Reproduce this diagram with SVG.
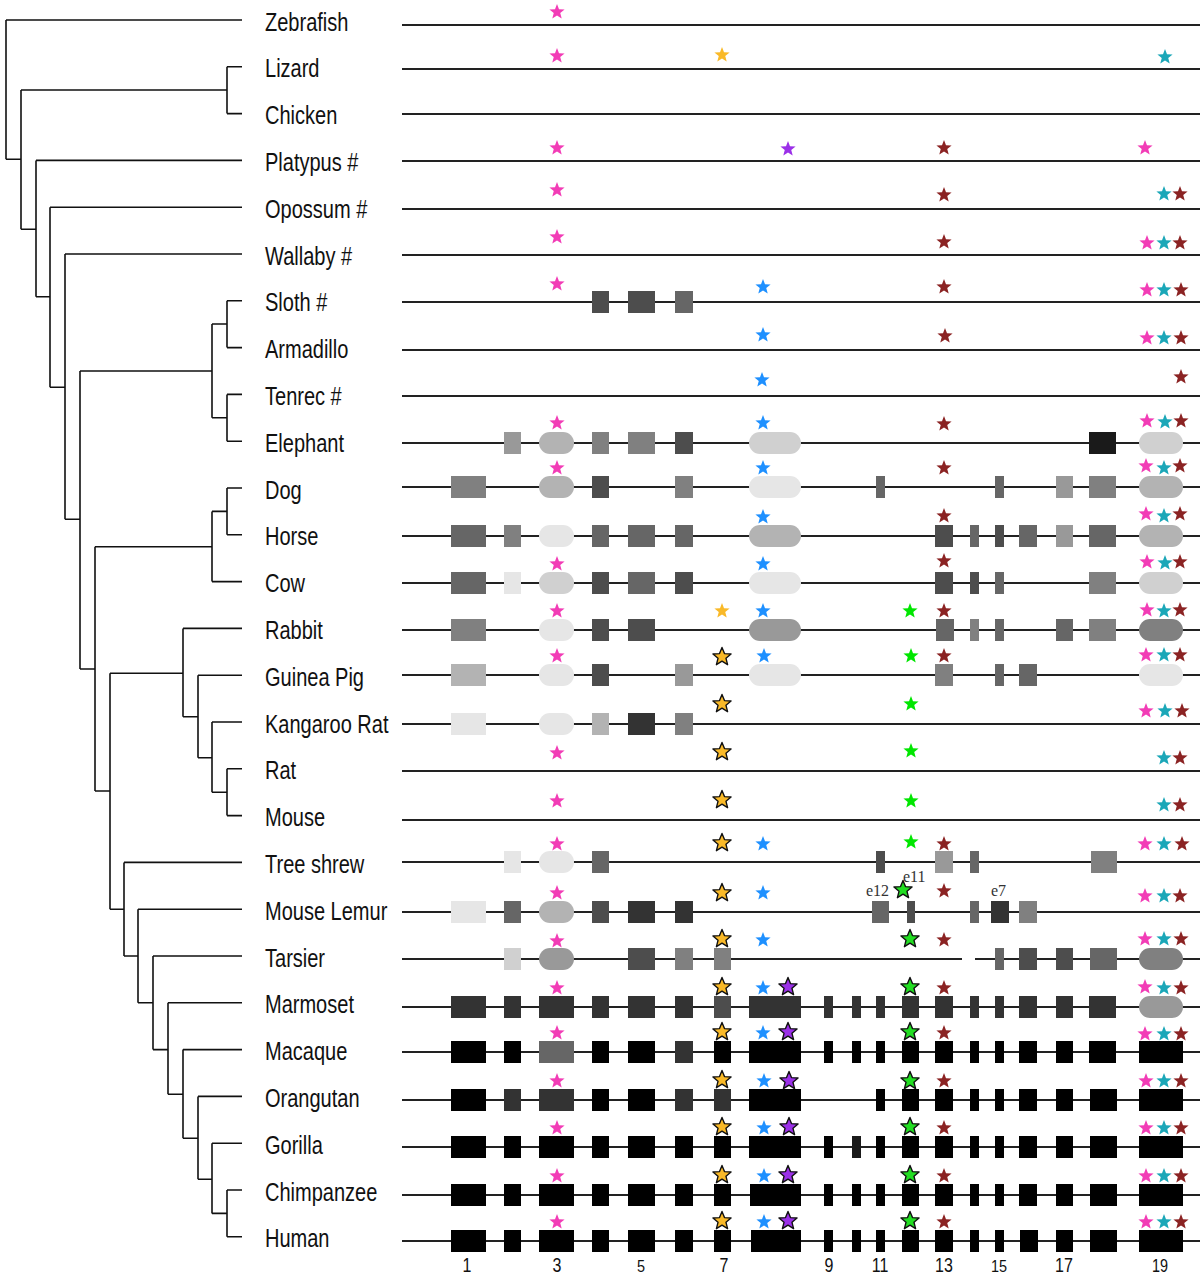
<svg xmlns="http://www.w3.org/2000/svg" xmlns:xlink="http://www.w3.org/1999/xlink" width="1200" height="1276" viewBox="0 0 1200 1276">
<style>
.lbl{font-family:"Liberation Sans",Arial,sans-serif;font-size:26px;fill:#111}
.num{font-family:"Liberation Sans",Arial,sans-serif;fill:#111;text-anchor:middle}
.ex{font-family:"Liberation Serif","Times New Roman",serif;font-size:16px;fill:#333}
.ln{stroke:#222;stroke-width:2;fill:none}
.tr path{stroke:#111;stroke-width:1.6;fill:none}
.g1{fill:#e6e6e6}.g2{fill:#d0d0d0}.g3{fill:#b3b3b3}.g4{fill:#999}.g5{fill:#808080}.g6{fill:#666}.g7{fill:#4d4d4d}.g8{fill:#333}.g9{fill:#1a1a1a}.k{fill:#000}
.p{fill:#f23cb6}.y{fill:#f9b928}.b{fill:#1e90ff}.v{fill:#9b30e8}.r{fill:#8b2323}.t{fill:#1ba7b8}.gr{fill:#00e600}.go{fill:#22dd22}
.o{stroke:#111;stroke-width:1.4;stroke-linejoin:round}
</style>
<defs>
<path id="s" d="M0,-8 L2.0,-2.76 L7.61,-2.47 L3.24,1.05 L4.7,6.47 L0,3.41 L-4.7,6.47 L-3.24,1.05 L-7.61,-2.47 L-2.0,-2.76 Z"/>
<path id="so" d="M0,-9.5 L2.47,-3.4 L9.04,-2.94 L3.99,1.3 L5.58,7.69 L0,4.2 L-5.58,7.69 L-3.99,1.3 L-9.04,-2.94 L-2.47,-3.4 Z"/>
</defs>
<rect width="1200" height="1276" fill="#fff"/>

<g id="connectors" class="tr">
<path d="M6,20 V159.3 M6,20 H242 M6,159.3 H21"/>
<path d="M21,90 V229.3 M21,90 H227 M21,229.3 H36 M227,66.8 V113.6 M227,66.8 H242 M227,113.6 H242"/>
<path d="M36,160.4 V296.7 M36,160.4 H242 M36,296.7 H50"/>
<path d="M50,207.2 V387.3 M50,207.2 H242 M50,387.3 H65"/>
<path d="M65,254 V519.3 M65,254 H242 M65,519.3 H80"/>
<path d="M80,371 V669 M80,371 H212 M80,669 H95"/>
<path d="M212,324 V417.8 M212,324 H227 M212,417.8 H227 M227,300.8 V347.6 M227,300.8 H242 M227,347.6 H242 M227,394.4 V441.2 M227,394.4 H242 M227,441.2 H242"/>
<path d="M95,546.7 V791 M95,546.7 H212 M95,791 H110"/>
<path d="M212,511.4 V581.6 M212,511.4 H227 M212,581.6 H242 M227,488 V534.8 M227,488 H242 M227,534.8 H242"/>
<path d="M110,673.3 V909.2 M110,673.3 H183 M110,909.2 H124"/>
<path d="M183,628.4 V716.7 M183,628.4 H242 M183,716.7 H198 M198,675.2 V757.7 M198,675.2 H242 M198,757.7 H212 M212,722 V792.2 M212,722 H242 M212,792.2 H227 M227,768.8 V815.6 M227,768.8 H242 M227,815.6 H242"/>
<path d="M124,862.4 V956 M124,862.4 H242 M124,956 H138 M138,909.2 V1002.8 M138,909.2 H242 M138,1002.8 H153 M153,956 V1049.6 M153,956 H242 M153,1049.6 H168 M168,1002.8 V1094.3 M168,1002.8 H242 M168,1094.3 H183 M183,1049.6 V1138.3 M183,1049.6 H242 M183,1138.3 H198 M198,1096.4 V1179.3 M198,1096.4 H242 M198,1179.3 H212 M212,1143.2 V1213.4 M212,1143.2 H242 M212,1213.4 H227 M227,1190 V1236.8 M227,1190 H242 M227,1236.8 H242"/>
</g>

<g id="zebrafish">
<text class="lbl" transform="translate(265,30.5) scale(0.77,1)">Zebrafish</text>
<line class="ln" x1="402" y1="25" x2="1200" y2="25"/>
<use href="#s" x="557" y="12" class="p"/>
</g>
<g id="lizard">
<text class="lbl" transform="translate(265,77.3) scale(0.77,1)">Lizard</text>
<line class="ln" x1="402" y1="69" x2="1200" y2="69"/>
<use href="#s" x="557" y="56" class="p"/><use href="#s" x="722" y="55" class="y"/><use href="#s" x="1165" y="57" class="t"/>
</g>
<g id="chicken">
<text class="lbl" transform="translate(265,124.1) scale(0.77,1)">Chicken</text>
<line class="ln" x1="402" y1="114" x2="1200" y2="114"/>
</g>
<g id="platypus">
<text class="lbl" transform="translate(265,170.9) scale(0.77,1)">Platypus #</text>
<line class="ln" x1="402" y1="161" x2="1200" y2="161"/>
<use href="#s" x="557" y="148" class="p"/><use href="#s" x="788" y="149" class="v"/><use href="#s" x="944" y="148" class="r"/><use href="#s" x="1145" y="148" class="p"/>
</g>
<g id="opossum">
<text class="lbl" transform="translate(265,217.7) scale(0.77,1)">Opossum #</text>
<line class="ln" x1="402" y1="209" x2="1200" y2="209"/>
<use href="#s" x="557" y="190" class="p"/><use href="#s" x="944" y="195" class="r"/><use href="#s" x="1164" y="194" class="t"/><use href="#s" x="1180" y="194" class="r"/>
</g>
<g id="wallaby">
<text class="lbl" transform="translate(265,264.5) scale(0.77,1)">Wallaby #</text>
<line class="ln" x1="402" y1="255" x2="1200" y2="255"/>
<use href="#s" x="557" y="237" class="p"/><use href="#s" x="944" y="242" class="r"/><use href="#s" x="1147" y="243" class="p"/><use href="#s" x="1164" y="243" class="t"/><use href="#s" x="1180" y="243" class="r"/>
</g>
<g id="sloth">
<text class="lbl" transform="translate(265,311.3) scale(0.77,1)">Sloth #</text>
<line class="ln" x1="402" y1="302" x2="1200" y2="302"/>
<rect class="g7" x="592" y="291" width="17" height="22"/><rect class="g7" x="628" y="291" width="27" height="22"/><rect class="g6" x="675" y="291" width="18" height="22"/>
<use href="#s" x="557" y="284" class="p"/><use href="#s" x="763" y="287" class="b"/><use href="#s" x="944" y="287" class="r"/><use href="#s" x="1147" y="290" class="p"/><use href="#s" x="1164" y="290" class="t"/><use href="#s" x="1181" y="290" class="r"/>
</g>
<g id="armadillo">
<text class="lbl" transform="translate(265,358.1) scale(0.77,1)">Armadillo</text>
<line class="ln" x1="402" y1="350" x2="1200" y2="350"/>
<use href="#s" x="763" y="335" class="b"/><use href="#s" x="945" y="336" class="r"/><use href="#s" x="1147" y="338" class="p"/><use href="#s" x="1164" y="338" class="t"/><use href="#s" x="1181" y="338" class="r"/>
</g>
<g id="tenrec">
<text class="lbl" transform="translate(265,404.9) scale(0.77,1)">Tenrec #</text>
<line class="ln" x1="402" y1="396" x2="1200" y2="396"/>
<use href="#s" x="762" y="380" class="b"/><use href="#s" x="1181" y="377" class="r"/>
</g>
<g id="elephant">
<text class="lbl" transform="translate(265,451.7) scale(0.77,1)">Elephant</text>
<line class="ln" x1="402" y1="443" x2="1200" y2="443"/>
<rect class="g4" x="504" y="432" width="17" height="22"/><rect class="g3" x="539" y="432" width="35" height="22" rx="11"/><rect class="g5" x="592" y="432" width="17" height="22"/><rect class="g5" x="628" y="432" width="27" height="22"/><rect class="g7" x="675" y="432" width="18" height="22"/><rect class="g2" x="749" y="432" width="52" height="22" rx="11"/><rect class="g9" x="1089" y="432" width="27" height="22"/><rect class="g2" x="1139" y="432" width="44" height="22" rx="11"/>
<use href="#s" x="557" y="423" class="p"/><use href="#s" x="763" y="423" class="b"/><use href="#s" x="944" y="424" class="r"/><use href="#s" x="1147" y="421" class="p"/><use href="#s" x="1165" y="422" class="t"/><use href="#s" x="1181" y="421" class="r"/>
</g>
<g id="dog">
<text class="lbl" transform="translate(265,498.5) scale(0.77,1)">Dog</text>
<line class="ln" x1="402" y1="487" x2="1200" y2="487"/>
<rect class="g5" x="451" y="476" width="35" height="22"/><rect class="g3" x="539" y="476" width="35" height="22" rx="11"/><rect class="g7" x="592" y="476" width="17" height="22"/><rect class="g5" x="675" y="476" width="18" height="22"/><rect class="g1" x="749" y="476" width="52" height="22" rx="11"/><rect class="g6" x="876" y="476" width="9" height="22"/><rect class="g6" x="995" y="476" width="9" height="22"/><rect class="g4" x="1056" y="476" width="17" height="22"/><rect class="g5" x="1089" y="476" width="27" height="22"/><rect class="g3" x="1139" y="476" width="44" height="22" rx="11"/>
<use href="#s" x="557" y="468" class="p"/><use href="#s" x="763" y="468" class="b"/><use href="#s" x="944" y="468" class="r"/><use href="#s" x="1146" y="466" class="p"/><use href="#s" x="1164" y="468" class="t"/><use href="#s" x="1180" y="466" class="r"/>
</g>
<g id="horse">
<text class="lbl" transform="translate(265,545.3) scale(0.77,1)">Horse</text>
<line class="ln" x1="402" y1="536" x2="1200" y2="536"/>
<rect class="g6" x="451" y="525" width="35" height="22"/><rect class="g5" x="504" y="525" width="17" height="22"/><rect class="g1" x="539" y="525" width="35" height="22" rx="11"/><rect class="g6" x="592" y="525" width="17" height="22"/><rect class="g6" x="628" y="525" width="27" height="22"/><rect class="g6" x="675" y="525" width="18" height="22"/><rect class="g3" x="749" y="525" width="52" height="22" rx="11"/><rect class="g7" x="935" y="525" width="18" height="22"/><rect class="g6" x="970" y="525" width="9" height="22"/><rect class="g7" x="995" y="525" width="9" height="22"/><rect class="g6" x="1019" y="525" width="18" height="22"/><rect class="g4" x="1056" y="525" width="17" height="22"/><rect class="g6" x="1089" y="525" width="27" height="22"/><rect class="g3" x="1139" y="525" width="44" height="22" rx="11"/>
<use href="#s" x="763" y="517" class="b"/><use href="#s" x="944" y="516" class="r"/><use href="#s" x="1146" y="514" class="p"/><use href="#s" x="1164" y="516" class="t"/><use href="#s" x="1180" y="514" class="r"/>
</g>
<g id="cow">
<text class="lbl" transform="translate(265,592.1) scale(0.77,1)">Cow</text>
<line class="ln" x1="402" y1="583" x2="1200" y2="583"/>
<rect class="g6" x="451" y="572" width="35" height="22"/><rect class="g1" x="504" y="572" width="17" height="22"/><rect class="g2" x="539" y="572" width="35" height="22" rx="11"/><rect class="g7" x="592" y="572" width="17" height="22"/><rect class="g6" x="628" y="572" width="27" height="22"/><rect class="g7" x="675" y="572" width="18" height="22"/><rect class="g1" x="749" y="572" width="52" height="22" rx="11"/><rect class="g7" x="935" y="572" width="18" height="22"/><rect class="g7" x="970" y="572" width="9" height="22"/><rect class="g6" x="995" y="572" width="9" height="22"/><rect class="g5" x="1089" y="572" width="27" height="22"/><rect class="g2" x="1139" y="572" width="44" height="22" rx="11"/>
<use href="#s" x="557" y="564" class="p"/><use href="#s" x="763" y="564" class="b"/><use href="#s" x="944" y="561" class="r"/><use href="#s" x="1147" y="562" class="p"/><use href="#s" x="1165" y="563" class="t"/><use href="#s" x="1180" y="562" class="r"/>
</g>
<g id="rabbit">
<text class="lbl" transform="translate(265,638.9) scale(0.77,1)">Rabbit</text>
<line class="ln" x1="402" y1="630" x2="1200" y2="630"/>
<rect class="g5" x="451" y="619" width="35" height="22"/><rect class="g1" x="539" y="619" width="35" height="22" rx="11"/><rect class="g7" x="592" y="619" width="17" height="22"/><rect class="g7" x="628" y="619" width="27" height="22"/><rect class="g4" x="749" y="619" width="52" height="22" rx="11"/><rect class="g6" x="936" y="619" width="18" height="22"/><rect class="g5" x="970" y="619" width="9" height="22"/><rect class="g6" x="995" y="619" width="9" height="22"/><rect class="g6" x="1056" y="619" width="17" height="22"/><rect class="g5" x="1089" y="619" width="27" height="22"/><rect class="g5" x="1139" y="619" width="44" height="22" rx="11"/>
<use href="#s" x="557" y="611" class="p"/><use href="#s" x="722" y="611" class="y"/><use href="#s" x="763" y="611" class="b"/><use href="#s" x="910" y="611" class="gr"/><use href="#s" x="944" y="611" class="r"/><use href="#s" x="1147" y="610" class="p"/><use href="#s" x="1164" y="611" class="t"/><use href="#s" x="1180" y="610" class="r"/>
</g>
<g id="guinea-pig">
<text class="lbl" transform="translate(265,685.7) scale(0.77,1)">Guinea Pig</text>
<line class="ln" x1="402" y1="675" x2="1200" y2="675"/>
<rect class="g3" x="451" y="664" width="35" height="22"/><rect class="g1" x="539" y="664" width="35" height="22" rx="11"/><rect class="g7" x="592" y="664" width="17" height="22"/><rect class="g4" x="675" y="664" width="18" height="22"/><rect class="g1" x="749" y="664" width="52" height="22" rx="11"/><rect class="g5" x="935" y="664" width="18" height="22"/><rect class="g6" x="995" y="664" width="9" height="22"/><rect class="g6" x="1019" y="664" width="18" height="22"/><rect class="g1" x="1139" y="664" width="44" height="22" rx="11"/>
<use href="#s" x="557" y="656" class="p"/><use href="#so" x="722" y="657" class="y o"/><use href="#s" x="764" y="656" class="b"/><use href="#s" x="911" y="656" class="gr"/><use href="#s" x="944" y="656" class="r"/><use href="#s" x="1146" y="655" class="p"/><use href="#s" x="1164" y="655" class="t"/><use href="#s" x="1180" y="655" class="r"/>
</g>
<g id="kangaroo-rat">
<text class="lbl" transform="translate(265,732.5) scale(0.77,1)">Kangaroo Rat</text>
<line class="ln" x1="402" y1="724" x2="1200" y2="724"/>
<rect class="g1" x="451" y="713" width="35" height="22"/><rect class="g1" x="539" y="713" width="35" height="22" rx="11"/><rect class="g3" x="592" y="713" width="17" height="22"/><rect class="g8" x="628" y="713" width="27" height="22"/><rect class="g5" x="675" y="713" width="18" height="22"/>
<use href="#so" x="722" y="704" class="y o"/><use href="#s" x="911" y="704" class="gr"/><use href="#s" x="1146" y="711" class="p"/><use href="#s" x="1165" y="711" class="t"/><use href="#s" x="1182" y="711" class="r"/>
</g>
<g id="rat">
<text class="lbl" transform="translate(265,779.3) scale(0.77,1)">Rat</text>
<line class="ln" x1="402" y1="771" x2="1200" y2="771"/>
<use href="#s" x="557" y="753" class="p"/><use href="#so" x="722" y="752" class="y o"/><use href="#s" x="911" y="751" class="gr"/><use href="#s" x="1164" y="758" class="t"/><use href="#s" x="1180" y="758" class="r"/>
</g>
<g id="mouse">
<text class="lbl" transform="translate(265,826.1) scale(0.77,1)">Mouse</text>
<line class="ln" x1="402" y1="820" x2="1200" y2="820"/>
<use href="#s" x="557" y="801" class="p"/><use href="#so" x="722" y="800" class="y o"/><use href="#s" x="911" y="801" class="gr"/><use href="#s" x="1164" y="805" class="t"/><use href="#s" x="1180" y="805" class="r"/>
</g>
<g id="tree-shrew">
<text class="lbl" transform="translate(265,872.9) scale(0.77,1)">Tree shrew</text>
<line class="ln" x1="402" y1="862" x2="1200" y2="862"/>
<rect class="g1" x="504" y="851" width="17" height="22"/><rect class="g1" x="539" y="851" width="35" height="22" rx="11"/><rect class="g6" x="592" y="851" width="17" height="22"/><rect class="g7" x="876" y="851" width="9" height="22"/><rect class="g4" x="935" y="851" width="18" height="22"/><rect class="g6" x="970" y="851" width="9" height="22"/><rect class="g5" x="1091" y="851" width="26" height="22"/>
<use href="#s" x="557" y="844" class="p"/><use href="#so" x="722" y="843" class="y o"/><use href="#s" x="763" y="844" class="b"/><use href="#s" x="911" y="842" class="gr"/><use href="#s" x="944" y="844" class="r"/><use href="#s" x="1145" y="844" class="p"/><use href="#s" x="1164" y="844" class="t"/><use href="#s" x="1182" y="844" class="r"/>
</g>
<g id="mouse-lemur">
<text class="lbl" transform="translate(265,919.7) scale(0.77,1)">Mouse Lemur</text>
<line class="ln" x1="402" y1="912" x2="1200" y2="912"/>
<rect class="g1" x="451" y="901" width="35" height="22"/><rect class="g6" x="504" y="901" width="17" height="22"/><rect class="g3" x="539" y="901" width="35" height="22" rx="11"/><rect class="g7" x="592" y="901" width="17" height="22"/><rect class="g8" x="628" y="901" width="27" height="22"/><rect class="g8" x="675" y="901" width="18" height="22"/><rect class="g6" x="872" y="901" width="17" height="22"/><rect class="g7" x="907" y="901" width="8" height="22"/><rect class="g6" x="970" y="901" width="9" height="22"/><rect class="g8" x="991" y="901" width="18" height="22"/><rect class="g5" x="1019" y="901" width="18" height="22"/>
<text class="ex" x="866" y="896">e12</text><text class="ex" x="903" y="882">e11</text><text class="ex" x="991" y="896">e7</text>
<use href="#s" x="557" y="893" class="p"/><use href="#so" x="722" y="893" class="y o"/><use href="#s" x="763" y="893" class="b"/><use href="#so" x="903" y="890" class="go o"/><use href="#s" x="944" y="891" class="r"/><use href="#s" x="1145" y="896" class="p"/><use href="#s" x="1164" y="896" class="t"/><use href="#s" x="1180" y="896" class="r"/>
</g>
<g id="tarsier">
<text class="lbl" transform="translate(265,966.5) scale(0.77,1)">Tarsier</text>
<line class="ln" x1="402" y1="959" x2="962" y2="959"/><line class="ln" x1="975" y1="959" x2="1200" y2="959"/>
<rect class="g2" x="504" y="948" width="17" height="22"/><rect class="g4" x="539" y="948" width="35" height="22" rx="11"/><rect class="g7" x="628" y="948" width="27" height="22"/><rect class="g5" x="675" y="948" width="18" height="22"/><rect class="g5" x="714" y="948" width="17" height="22"/><rect class="g6" x="995" y="948" width="9" height="22"/><rect class="g7" x="1019" y="948" width="18" height="22"/><rect class="g7" x="1056" y="948" width="17" height="22"/><rect class="g6" x="1090" y="948" width="27" height="22"/><rect class="g5" x="1139" y="948" width="44" height="22" rx="11"/>
<use href="#s" x="557" y="941" class="p"/><use href="#so" x="722" y="939" class="y o"/><use href="#s" x="763" y="940" class="b"/><use href="#so" x="910" y="939" class="go o"/><use href="#s" x="944" y="940" class="r"/><use href="#s" x="1145" y="939" class="p"/><use href="#s" x="1164" y="939" class="t"/><use href="#s" x="1181" y="939" class="r"/>
</g>
<g id="marmoset">
<text class="lbl" transform="translate(265,1013.3) scale(0.77,1)">Marmoset</text>
<line class="ln" x1="402" y1="1007" x2="1200" y2="1007"/>
<g class="g8"><rect x="451" y="996" width="35" height="22"/><rect x="504" y="996" width="17" height="22"/><rect x="539" y="996" width="35" height="22"/><rect x="592" y="996" width="17" height="22"/><rect x="628" y="996" width="27" height="22"/><rect x="675" y="996" width="18" height="22"/><rect x="749" y="996" width="52" height="22"/><rect x="824" y="996" width="9" height="22"/><rect x="852" y="996" width="9" height="22"/><rect x="876" y="996" width="9" height="22"/><rect x="902" y="996" width="17" height="22"/><rect x="935" y="996" width="18" height="22"/><rect x="970" y="996" width="9" height="22"/><rect x="995" y="996" width="9" height="22"/><rect x="1019" y="996" width="18" height="22"/><rect x="1056" y="996" width="17" height="22"/><rect x="1089" y="996" width="27" height="22"/></g>
<rect class="g7" x="714" y="996" width="17" height="22"/><rect class="g4" x="1139" y="996" width="44" height="22" rx="11"/>
<use href="#s" x="557" y="988" class="p"/><use href="#so" x="722" y="987" class="y o"/><use href="#s" x="763" y="988" class="b"/><use href="#so" x="788" y="987" class="v o"/><use href="#so" x="910" y="987" class="go o"/><use href="#s" x="944" y="988" class="r"/><use href="#s" x="1145" y="987" class="p"/><use href="#s" x="1164" y="988" class="t"/><use href="#s" x="1181" y="988" class="r"/>
</g>
<g id="macaque">
<text class="lbl" transform="translate(265,1060.1) scale(0.77,1)">Macaque</text>
<line class="ln" x1="402" y1="1052" x2="1200" y2="1052"/>
<g class="k"><rect x="451" y="1041" width="35" height="22"/><rect x="504" y="1041" width="17" height="22"/><rect x="592" y="1041" width="17" height="22"/><rect x="628" y="1041" width="27" height="22"/><rect x="714" y="1041" width="17" height="22"/><rect x="749" y="1041" width="52" height="22"/><rect x="824" y="1041" width="9" height="22"/><rect x="852" y="1041" width="9" height="22"/><rect x="876" y="1041" width="9" height="22"/><rect x="902" y="1041" width="17" height="22"/><rect x="935" y="1041" width="18" height="22"/><rect x="970" y="1041" width="9" height="22"/><rect x="995" y="1041" width="9" height="22"/><rect x="1019" y="1041" width="18" height="22"/><rect x="1056" y="1041" width="17" height="22"/><rect x="1089" y="1041" width="27" height="22"/><rect x="1139" y="1041" width="44" height="22"/></g>
<rect class="g6" x="539" y="1041" width="35" height="22"/><rect class="g8" x="675" y="1041" width="18" height="22"/>
<use href="#s" x="557" y="1033" class="p"/><use href="#so" x="722" y="1032" class="y o"/><use href="#s" x="763" y="1033" class="b"/><use href="#so" x="788" y="1032" class="v o"/><use href="#so" x="910" y="1032" class="go o"/><use href="#s" x="944" y="1033" class="r"/><use href="#s" x="1145" y="1034" class="p"/><use href="#s" x="1164" y="1034" class="t"/><use href="#s" x="1181" y="1034" class="r"/>
</g>
<g id="orangutan">
<text class="lbl" transform="translate(265,1106.9) scale(0.77,1)">Orangutan</text>
<line class="ln" x1="402" y1="1100" x2="1200" y2="1100"/>
<g class="k"><rect x="451" y="1089" width="35" height="22"/><rect x="592" y="1089" width="17" height="22"/><rect x="628" y="1089" width="27" height="22"/><rect x="749" y="1089" width="52" height="22"/><rect x="876" y="1089" width="9" height="22"/><rect x="902" y="1089" width="17" height="22"/><rect x="935" y="1089" width="18" height="22"/><rect x="970" y="1089" width="9" height="22"/><rect x="995" y="1089" width="9" height="22"/><rect x="1019" y="1089" width="18" height="22"/><rect x="1056" y="1089" width="17" height="22"/><rect x="1090" y="1089" width="27" height="22"/><rect x="1139" y="1089" width="44" height="22"/></g>
<g class="g8"><rect x="504" y="1089" width="17" height="22"/><rect x="539" y="1089" width="35" height="22"/><rect x="675" y="1089" width="18" height="22"/><rect x="714" y="1089" width="17" height="22"/></g>
<use href="#s" x="557" y="1081" class="p"/><use href="#so" x="722" y="1080" class="y o"/><use href="#s" x="764" y="1081" class="b"/><use href="#so" x="789" y="1081" class="v o"/><use href="#so" x="910" y="1081" class="go o"/><use href="#s" x="944" y="1081" class="r"/><use href="#s" x="1146" y="1081" class="p"/><use href="#s" x="1164" y="1081" class="t"/><use href="#s" x="1181" y="1081" class="r"/>
</g>
<g id="gorilla">
<text class="lbl" transform="translate(265,1153.7) scale(0.77,1)">Gorilla</text>
<line class="ln" x1="402" y1="1147" x2="1200" y2="1147"/>
<g class="k"><rect x="451" y="1136" width="35" height="22"/><rect x="504" y="1136" width="17" height="22"/><rect x="539" y="1136" width="35" height="22"/><rect x="592" y="1136" width="17" height="22"/><rect x="628" y="1136" width="27" height="22"/><rect x="675" y="1136" width="18" height="22"/><rect x="714" y="1136" width="17" height="22"/><rect x="749" y="1136" width="52" height="22"/><rect x="824" y="1136" width="9" height="22"/><rect x="876" y="1136" width="9" height="22"/><rect x="902" y="1136" width="17" height="22"/><rect x="935" y="1136" width="18" height="22"/><rect x="970" y="1136" width="9" height="22"/><rect x="995" y="1136" width="9" height="22"/><rect x="1019" y="1136" width="18" height="22"/><rect x="1056" y="1136" width="17" height="22"/><rect x="1090" y="1136" width="27" height="22"/><rect x="1139" y="1136" width="44" height="22"/></g>
<rect class="g9" x="852" y="1136" width="9" height="22"/>
<use href="#s" x="557" y="1128" class="p"/><use href="#so" x="722" y="1127" class="y o"/><use href="#s" x="764" y="1128" class="b"/><use href="#so" x="789" y="1127" class="v o"/><use href="#so" x="910" y="1127" class="go o"/><use href="#s" x="944" y="1128" class="r"/><use href="#s" x="1146" y="1128" class="p"/><use href="#s" x="1164" y="1128" class="t"/><use href="#s" x="1181" y="1128" class="r"/>
</g>
<g id="chimpanzee">
<text class="lbl" transform="translate(265,1200.5) scale(0.77,1)">Chimpanzee</text>
<line class="ln" x1="402" y1="1195" x2="1200" y2="1195"/>
<g class="k"><rect x="451" y="1184" width="35" height="22"/><rect x="504" y="1184" width="17" height="22"/><rect x="539" y="1184" width="35" height="22"/><rect x="592" y="1184" width="17" height="22"/><rect x="628" y="1184" width="27" height="22"/><rect x="675" y="1184" width="18" height="22"/><rect x="714" y="1184" width="17" height="22"/><rect x="750" y="1184" width="51" height="22"/><rect x="824" y="1184" width="9" height="22"/><rect x="852" y="1184" width="9" height="22"/><rect x="876" y="1184" width="9" height="22"/><rect x="902" y="1184" width="17" height="22"/><rect x="935" y="1184" width="18" height="22"/><rect x="970" y="1184" width="9" height="22"/><rect x="995" y="1184" width="9" height="22"/><rect x="1019" y="1184" width="18" height="22"/><rect x="1056" y="1184" width="17" height="22"/><rect x="1090" y="1184" width="27" height="22"/><rect x="1139" y="1184" width="44" height="22"/></g>
<use href="#s" x="557" y="1176" class="p"/><use href="#so" x="722" y="1175" class="y o"/><use href="#s" x="764" y="1176" class="b"/><use href="#so" x="788" y="1175" class="v o"/><use href="#so" x="910" y="1175" class="go o"/><use href="#s" x="944" y="1176" class="r"/><use href="#s" x="1146" y="1176" class="p"/><use href="#s" x="1164" y="1176" class="t"/><use href="#s" x="1181" y="1176" class="r"/>
</g>
<g id="human">
<text class="lbl" transform="translate(265,1247.3) scale(0.77,1)">Human</text>
<line class="ln" x1="402" y1="1241" x2="1200" y2="1241"/>
<g class="k"><rect x="451" y="1230" width="35" height="22"/><rect x="504" y="1230" width="17" height="22"/><rect x="539" y="1230" width="35" height="22"/><rect x="592" y="1230" width="17" height="22"/><rect x="628" y="1230" width="27" height="22"/><rect x="675" y="1230" width="18" height="22"/><rect x="714" y="1230" width="17" height="22"/><rect x="751" y="1230" width="50" height="22"/><rect x="824" y="1230" width="9" height="22"/><rect x="852" y="1230" width="9" height="22"/><rect x="876" y="1230" width="9" height="22"/><rect x="902" y="1230" width="17" height="22"/><rect x="935" y="1230" width="18" height="22"/><rect x="970" y="1230" width="9" height="22"/><rect x="995" y="1230" width="9" height="22"/><rect x="1020" y="1230" width="18" height="22"/><rect x="1056" y="1230" width="17" height="22"/><rect x="1090" y="1230" width="27" height="22"/><rect x="1139" y="1230" width="44" height="22"/></g>
<use href="#s" x="557" y="1222" class="p"/><use href="#so" x="722" y="1221" class="y o"/><use href="#s" x="764" y="1222" class="b"/><use href="#so" x="788" y="1221" class="v o"/><use href="#so" x="910" y="1221" class="go o"/><use href="#s" x="944" y="1222" class="r"/><use href="#s" x="1146" y="1222" class="p"/><use href="#s" x="1164" y="1222" class="t"/><use href="#s" x="1181" y="1222" class="r"/>
</g>

<g id="exon-numbers">
<text class="num" font-size="20" transform="translate(467,1272) scale(0.8,1)">1</text>
<text class="num" font-size="20" transform="translate(557,1272) scale(0.8,1)">3</text>
<text class="num" font-size="17" transform="translate(641,1272) scale(0.85,1)">5</text>
<text class="num" font-size="20" transform="translate(724,1272) scale(0.8,1)">7</text>
<text class="num" font-size="20" transform="translate(829,1272) scale(0.8,1)">9</text>
<text class="num" font-size="20" transform="translate(880,1272) scale(0.8,1)">11</text>
<text class="num" font-size="20" transform="translate(944,1272) scale(0.8,1)">13</text>
<text class="num" font-size="17" transform="translate(999,1272) scale(0.85,1)">15</text>
<text class="num" font-size="20" transform="translate(1064,1272) scale(0.8,1)">17</text>
<text class="num" font-size="18" transform="translate(1160,1272) scale(0.8,1)">19</text>
</g>
</svg>
